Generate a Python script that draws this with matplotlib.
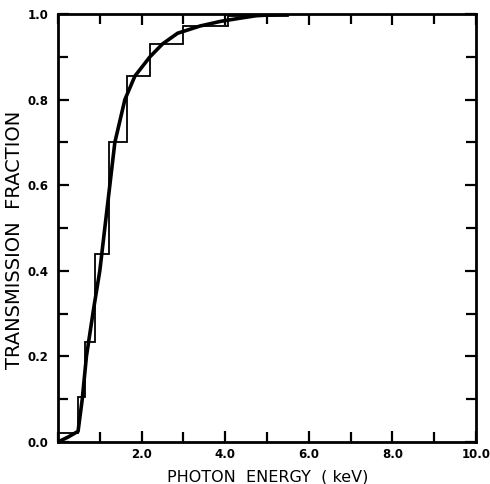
import matplotlib
matplotlib.use("Agg")
import matplotlib.pyplot as plt
from matplotlib.ticker import MultipleLocator, FixedLocator, FixedFormatter

# Binned transmission (step histogram): bin edges in keV and level per bin
bin_edges = [0.0, 0.48, 0.64, 0.88, 1.21, 1.64, 2.19, 2.98, 4.06, 5.5]
bin_levels = [0.022, 0.105, 0.234, 0.44, 0.70, 0.855, 0.93, 0.972, 0.995]

# Smooth transmission curve
curve_energy = [0.0, 0.25, 0.48, 0.58, 0.68, 0.85, 1.0, 1.12, 1.24, 1.36,
                1.6, 1.84, 2.2, 2.5, 2.86, 3.4, 3.9, 4.34, 4.74, 5.5]
curve_trans = [0.0, 0.012, 0.025, 0.10, 0.20, 0.31, 0.40, 0.50, 0.60, 0.70,
               0.80, 0.855, 0.90, 0.93, 0.955, 0.972, 0.983, 0.99, 0.996, 1.0]

x_tick_labels = ["2.0", "4.0", "6.0", "8.0", "10.0"]
y_tick_labels = ["0.0", "0.2", "0.4", "0.6", "0.8", "1.0"]

fig = plt.figure(figsize=(4.9, 4.84), dpi=100)
ax = fig.add_axes([58 / 490, 42 / 484, (476 - 58) / 490, (442 - 14) / 484])

# Step histogram
xs, ys = [], []
for i, lvl in enumerate(bin_levels):
    xs += [bin_edges[i], bin_edges[i + 1]]
    ys += [lvl, lvl]
xs = [bin_edges[0]] + xs + [bin_edges[-1]]
ys = [0.0] + ys + [1.0]
ax.plot(xs, ys, color="black", lw=1.3, solid_joinstyle="miter")

# Smooth curve
ax.plot(curve_energy, curve_trans, color="black", lw=2.6,
        solid_capstyle="round", solid_joinstyle="round")

ax.set_xlim(0, 10)
ax.set_ylim(0, 1.0)

ax.xaxis.set_major_locator(FixedLocator([2, 4, 6, 8, 10]))
ax.xaxis.set_major_formatter(FixedFormatter(x_tick_labels))
ax.xaxis.set_minor_locator(MultipleLocator(1))
ax.yaxis.set_major_locator(FixedLocator([0, 0.2, 0.4, 0.6, 0.8, 1.0]))
ax.yaxis.set_major_formatter(FixedFormatter(y_tick_labels))
ax.yaxis.set_minor_locator(MultipleLocator(0.1))

ax.tick_params(which="both", direction="in", top=True, right=True,
               width=1.6, labelsize=8.5)
ax.tick_params(which="major", length=8)
ax.tick_params(which="minor", length=7)
ax.tick_params(axis="x", which="major", pad=4)
ax.tick_params(axis="y", which="major", pad=7)
for lab in ax.get_xticklabels() + ax.get_yticklabels():
    lab.set_fontweight("bold")

for s in ax.spines.values():
    s.set_linewidth(2.0)

ax.set_xlabel("PHOTON  ENERGY  ( keV)", fontsize=11.5)
ax.set_ylabel("TRANSMISSION  FRACTION", fontsize=14)
ax.xaxis.set_label_coords((268 - 58) / 418, (442 - 470) / 428)
ax.yaxis.set_label_coords((24 - 58) / 418, (442 - 240) / 428)

fig.savefig("out.png", dpi=100)
